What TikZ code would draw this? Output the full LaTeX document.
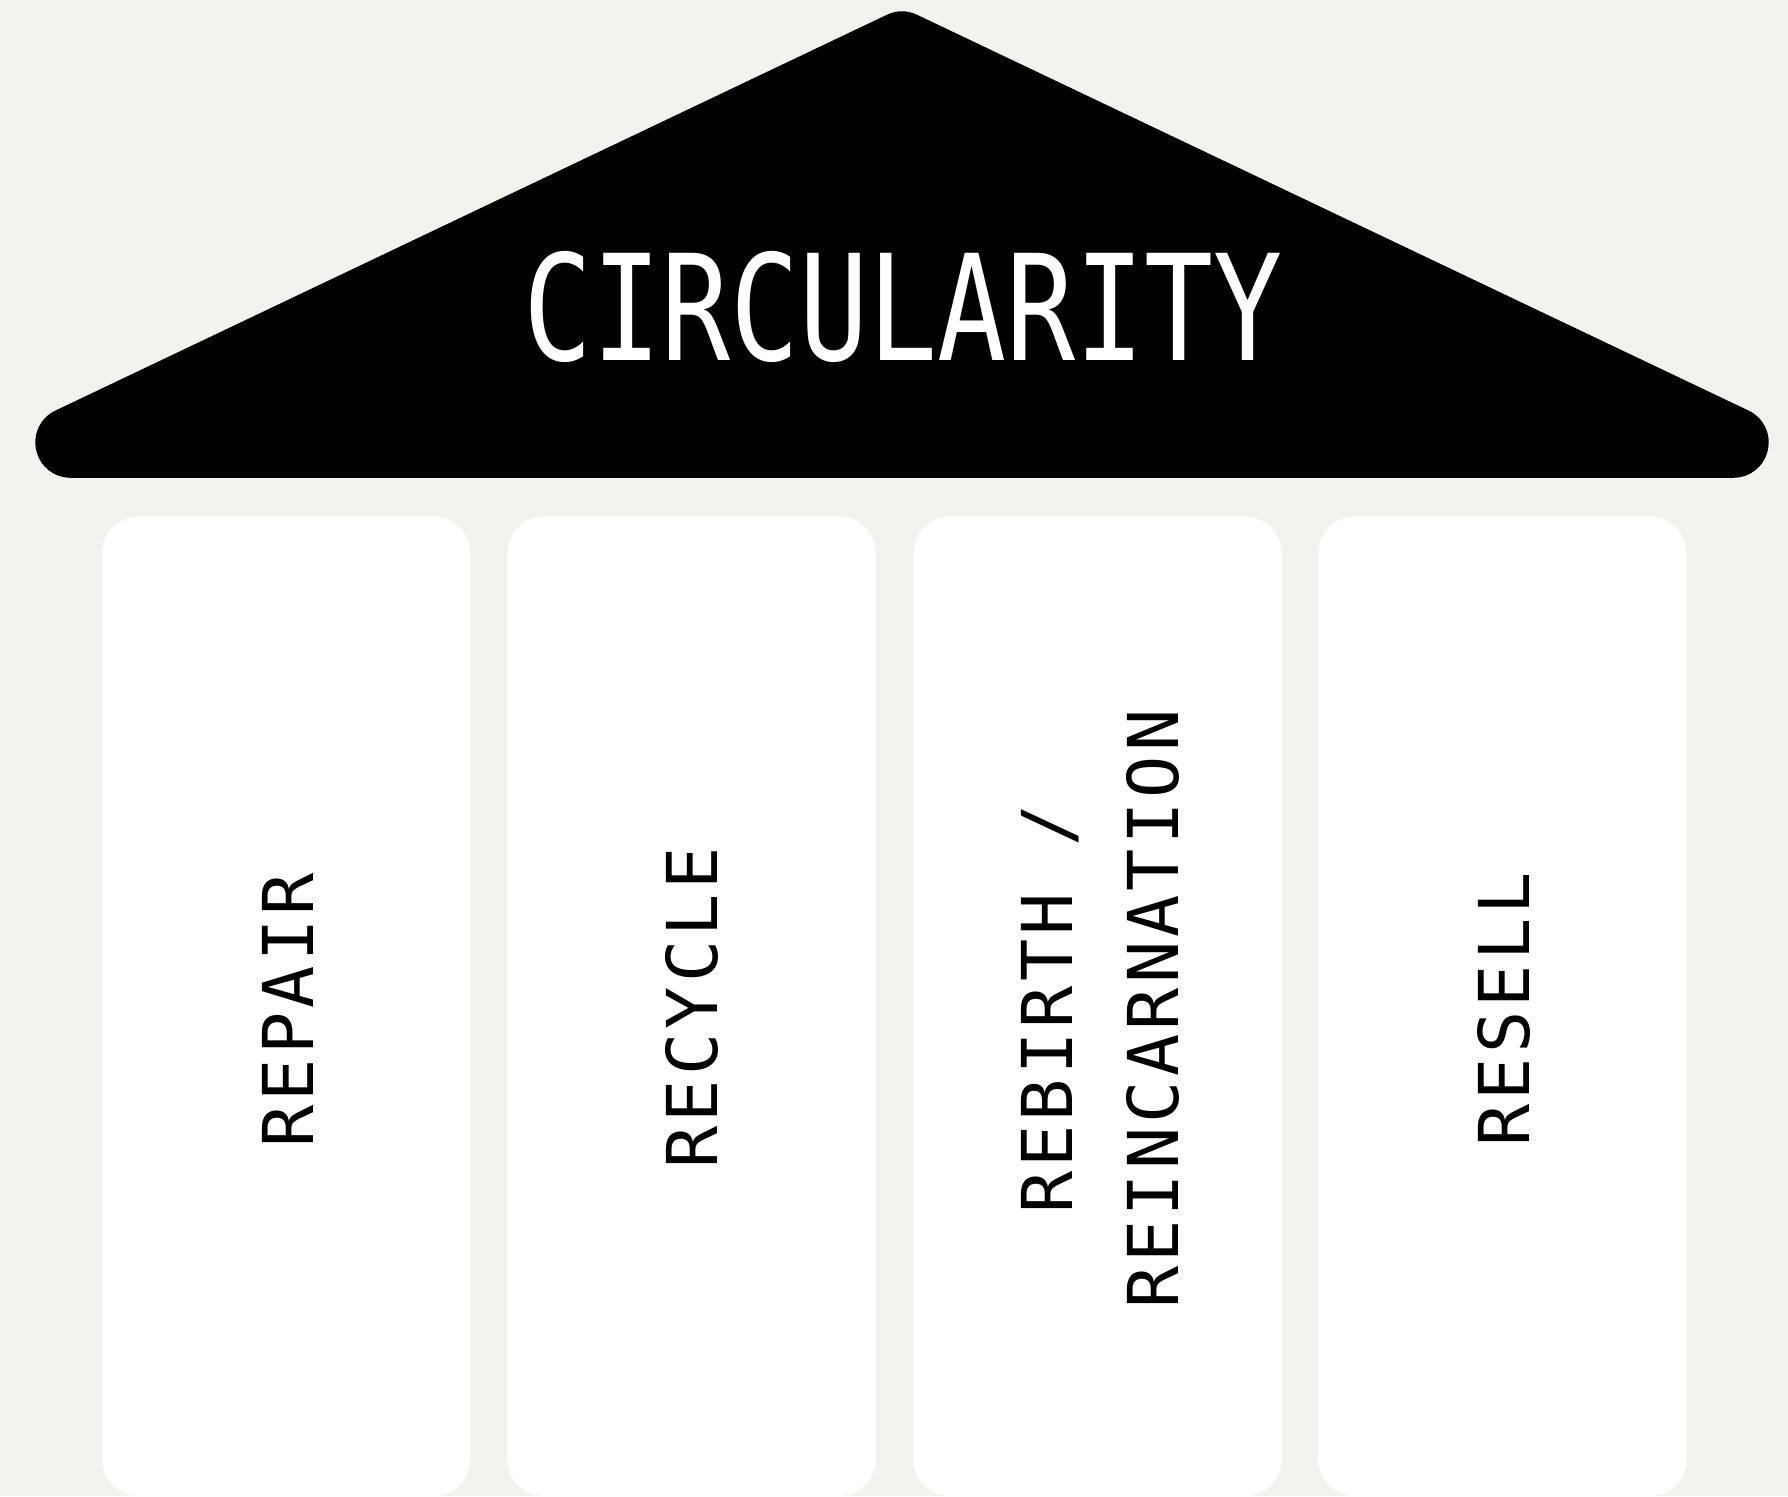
\documentclass[tikz,border=0pt]{standalone}
\usepackage{fontspec}
\newfontfamily\titlefont{DejaVu Sans Mono}
\newfontfamily\pillarfont[LetterSpace=6]{DejaVu Sans Mono}
\usepackage{tikz}
\definecolor{paper}{RGB}{243,242,237}
\tikzset{roof/.style={fill=black,draw=black,line width=0.62cm,line join=round}}
\tikzset{title/.style={text=white,font=\titlefont\fontsize{36.7}{40}\selectfont,xscale=0.78,inner sep=0pt}}
\tikzset{pillar/.style={fill=white,rounded corners=0.32cm,minimum width=3.23cm,minimum height=8.59cm,inner sep=0pt}}
\tikzset{pillarlabel/.style={rotate=90,align=center,inner sep=0pt,font=\pillarfont\fontsize{17.5}{26.4}\selectfont}}

\begin{document}
\begin{tikzpicture}
    \fill[paper] (0,0) rectangle (15.68,13.12);
    \useasboundingbox (0,0) rectangle (15.68,13.12);
    % roof
    \filldraw[roof] (0.62,9.24) -- (7.91,12.71) -- (15.20,9.24) -- cycle;
    \node[title] (circ) at (7.92,10.43) {CIRCULARITY};
    % pillars
    \node[pillar] (repair) at (2.51,4.295) {};
    \node[pillar] (recycle) at (6.065,4.295) {};
    \node[pillar] (rebirth) at (9.625,4.295) {};
    \node[pillar] (resell) at (13.175,4.295) {};
    \node[pillarlabel] (repairtext) at (2.525,4.26) {REPAIR};
    \node[pillarlabel] (recycletext) at (6.07,4.28) {RECYCLE};
    \node[pillarlabel] (rebirthtext) at (9.65,4.27) {REBIRTH /\\REINCARNATION};
    \node[pillarlabel] (reselltext) at (13.185,4.27) {RESELL};
  \end{tikzpicture}
\end{document}
